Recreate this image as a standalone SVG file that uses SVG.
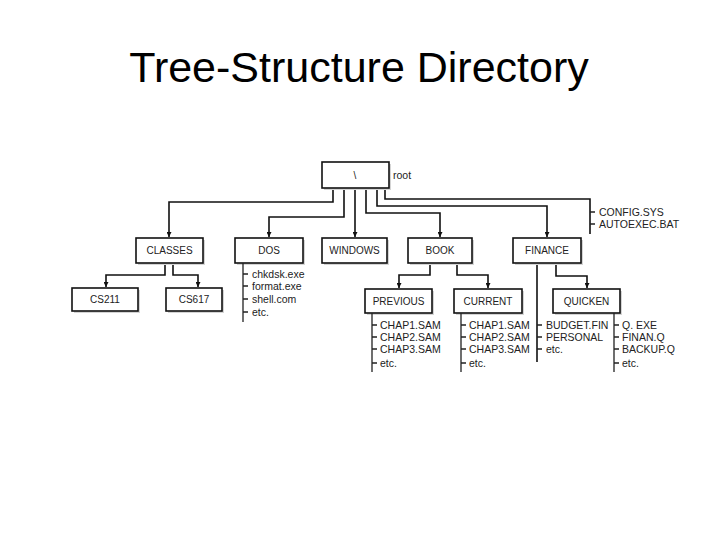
<svg xmlns="http://www.w3.org/2000/svg" width="720" height="540" viewBox="0 0 720 540">
<defs>
<style>
.title{font-family:"Liberation Sans",Arial,sans-serif;font-size:43px;fill:#000}
.box{fill:#fff;stroke:#111;stroke-width:1.6}
.shadow{fill:#d4d4d4}
.lbl{font-family:"Liberation Sans",Arial,sans-serif;font-size:10px;fill:#222;text-anchor:middle}
.item{font-family:"Liberation Sans",Arial,sans-serif;font-size:10.5px;fill:#222}
.ln{fill:none;stroke:#111;stroke-width:1.6}
.lt{fill:none;stroke:#222;stroke-width:1.3}
</style>
<marker id="arr" viewBox="0 0 10 10" refX="10" refY="5" markerWidth="5" markerHeight="5" orient="auto" markerUnits="userSpaceOnUse">
<path d="M0,0 L10,5 L0,10 z" fill="#111"/>
</marker>
</defs>
<rect width="720" height="540" fill="#fff"/>
<text class="title" x="359" y="82" text-anchor="middle">Tree-Structure Directory</text>

<g id="connectors">
<path class="ln" d="M333,188 V202 H169 V237" marker-end="url(#arr)"/>
<path class="ln" d="M344,188 V217 H269 V237" marker-end="url(#arr)"/>
<path class="ln" d="M355,188 V237" marker-end="url(#arr)"/>
<path class="ln" d="M366,188 V213 H440 V237" marker-end="url(#arr)"/>
<path class="ln" d="M377,188 V206 H547 V237" marker-end="url(#arr)"/>
<path class="ln" d="M385,188 V199 H590 V234"/>
<path class="ln" d="M165,263 V275 H106 V287" marker-end="url(#arr)"/>
<path class="ln" d="M173,263 V275 H198 V287" marker-end="url(#arr)"/>
<path class="ln" d="M430,263 V275 H399 V288" marker-end="url(#arr)"/>
<path class="ln" d="M457,263 V275 H488 V288" marker-end="url(#arr)"/>
<path class="ln" d="M556,263 V276 H587 V288" marker-end="url(#arr)"/>
<path class="ln" d="M537,263 V362"/>
</g>

<g id="root">
<rect class="shadow" x="324" y="164" width="67" height="26"/>
<rect class="box" x="322" y="162" width="67" height="26"/>
<text class="lbl" x="355" y="179">\</text>
<text class="item" x="393" y="179">root</text>
</g>

<g id="config-files">
<path class="lt" d="M590,212 H595 M590,224 H595"/>
<text class="item" x="599" y="216">CONFIG.SYS</text>
<text class="item" x="599" y="228">AUTOEXEC.BAT</text>
</g>

<g id="classes">
<rect class="shadow" x="138" y="240" width="67" height="25"/>
<rect class="box" x="136" y="238" width="67" height="25"/>
<text class="lbl" x="169.5" y="254">CLASSES</text>
</g>

<g id="dos">
<rect class="shadow" x="237" y="240" width="68" height="25"/>
<rect class="box" x="235" y="238" width="68" height="25"/>
<text class="lbl" x="269" y="254">DOS</text>
<path class="lt" d="M243,263 V322 M243,274 H248 M243,286 H248 M243,299 H248 M243,312 H248"/>
<text class="item" x="252" y="278">chkdsk.exe</text>
<text class="item" x="252" y="290">format.exe</text>
<text class="item" x="252" y="303">shell.com</text>
<text class="item" x="252" y="316">etc.</text>
</g>

<g id="windows">
<rect class="shadow" x="324" y="240" width="65" height="25"/>
<rect class="box" x="322" y="238" width="65" height="25"/>
<text class="lbl" x="354.5" y="254">WINDOWS</text>
</g>

<g id="book">
<rect class="shadow" x="410" y="240" width="64" height="25"/>
<rect class="box" x="408" y="238" width="64" height="25"/>
<text class="lbl" x="440" y="254">BOOK</text>
</g>

<g id="finance">
<rect class="shadow" x="515" y="240" width="68" height="25"/>
<rect class="box" x="513" y="238" width="68" height="25"/>
<text class="lbl" x="547" y="254">FINANCE</text>
<path class="lt" d="M537,325 H542 M537,337 H542 M537,349 H542"/>
<text class="item" x="546" y="329">BUDGET.FIN</text>
<text class="item" x="546" y="341">PERSONAL</text>
<text class="item" x="546" y="353">etc.</text>
</g>

<g id="cs211">
<rect class="shadow" x="74" y="290" width="66" height="23"/>
<rect class="box" x="72" y="288" width="66" height="23"/>
<text class="lbl" x="105" y="303">CS211</text>
</g>

<g id="cs617">
<rect class="shadow" x="168" y="290" width="56" height="23"/>
<rect class="box" x="166" y="288" width="56" height="23"/>
<text class="lbl" x="194" y="303">CS617</text>
</g>

<g id="previous">
<rect class="shadow" x="367" y="291" width="67" height="24"/>
<rect class="box" x="365" y="289" width="67" height="24"/>
<text class="lbl" x="398.5" y="305">PREVIOUS</text>
<path class="lt" d="M372,313 V372 M372,325 H377 M372,337 H377 M372,349 H377 M372,363 H377"/>
<text class="item" x="380" y="329">CHAP1.SAM</text>
<text class="item" x="380" y="341">CHAP2.SAM</text>
<text class="item" x="380" y="353">CHAP3.SAM</text>
<text class="item" x="380" y="367">etc.</text>
</g>

<g id="current">
<rect class="shadow" x="456" y="291" width="68" height="24"/>
<rect class="box" x="454" y="289" width="68" height="24"/>
<text class="lbl" x="488" y="305">CURRENT</text>
<path class="lt" d="M461,313 V372 M461,325 H466 M461,337 H466 M461,349 H466 M461,363 H466"/>
<text class="item" x="469" y="329">CHAP1.SAM</text>
<text class="item" x="469" y="341">CHAP2.SAM</text>
<text class="item" x="469" y="353">CHAP3.SAM</text>
<text class="item" x="469" y="367">etc.</text>
</g>

<g id="quicken">
<rect class="shadow" x="555" y="291" width="67" height="24"/>
<rect class="box" x="553" y="289" width="67" height="24"/>
<text class="lbl" x="586.5" y="305">QUICKEN</text>
<path class="lt" d="M614,313 V372 M614,325 H619 M614,337 H619 M614,349 H619 M614,363 H619"/>
<text class="item" x="622" y="329">Q. EXE</text>
<text class="item" x="622" y="341">FINAN.Q</text>
<text class="item" x="622" y="353">BACKUP.Q</text>
<text class="item" x="622" y="367">etc.</text>
</g>
</svg>
